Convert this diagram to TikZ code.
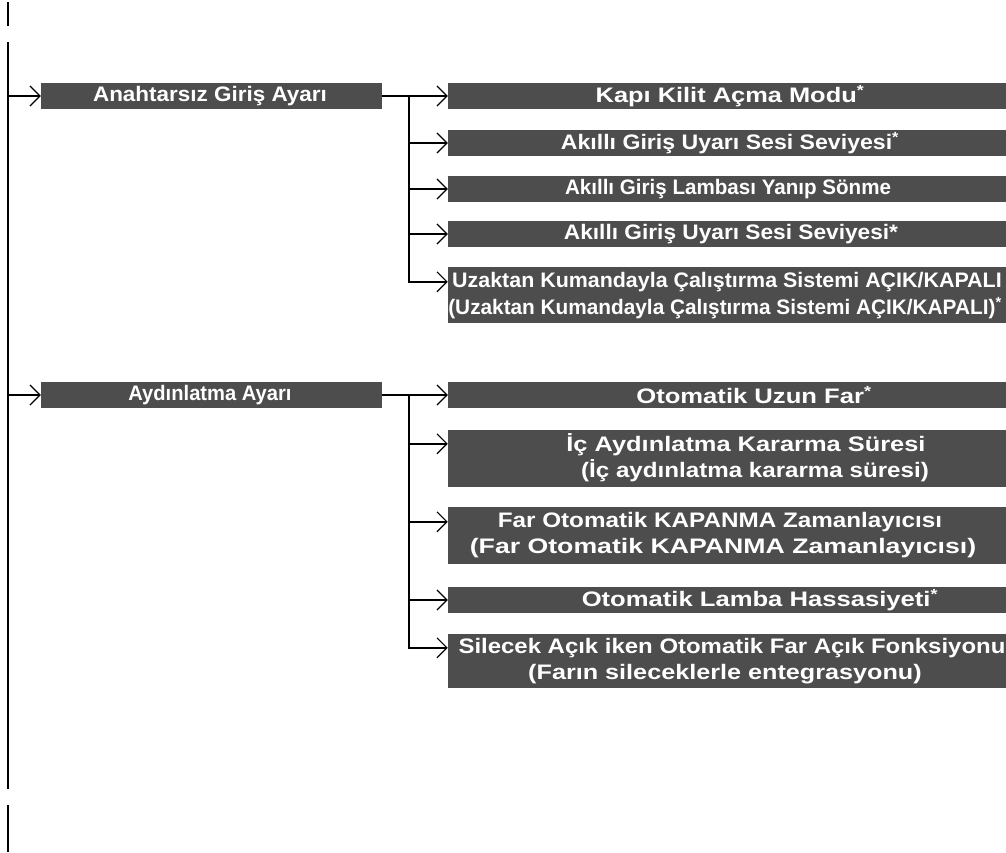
\documentclass[tikz,border=0pt]{standalone}
\usepackage{fontspec}
\setmainfont{Liberation Sans}
\usetikzlibrary{arrows.meta}
\definecolor{boxgray}{HTML}{4D4D4D}
\tikzset{
  line/.style={line width=1.6pt, line cap=butt},
  arr/.style={line width=1.6pt, -{Straight Barb[length=10pt,width=20pt,line width=1.2pt]}},
  pbox/.style={fill=boxgray, draw=none, minimum width=341pt, minimum height=26pt, inner sep=0pt},
  cbox/.style={fill=boxgray, draw=none, minimum width=558pt, inner sep=0pt},
  lbl/.style={text=white, font=\fontsize{21}{26}\selectfont\bfseries, inner sep=0pt, anchor=center},
}
\newcommand{\supast}{\textsuperscript{*}}
\newcommand{\sx}[2]{\scalebox{#1}[1]{#2}}
\begin{document}
\begin{tikzpicture}[x=1pt,y=-1pt]
\useasboundingbox (0,0) rectangle (1006,852);
% trunk
\coordinate (t0) at (8,2); \coordinate (t1) at (8,26);
\coordinate (m0) at (8,42); \coordinate (m1) at (8,789);
\coordinate (e0) at (8,805); \coordinate (e1) at (8,852);
\draw[line] (t0) -- (t1);
\draw[line] (m0) -- (m1);
\draw[line] (e0) -- (e1);
% parents
\node[pbox] (P1) at (211.5,96) {};
\node[lbl] at (210,96) {\sx{1.07}{Anahtarsız Giriş Ayarı}};
\node[pbox] (P2) at (211.5,395) {};
\node[lbl] at (210,395) {\sx{0.96}{Aydınlatma Ayarı}};
% children group 1
\node[cbox, minimum height=26pt] (C1) at (727,96) {};
\node[lbl] at (730,96) {\sx{1.21}{Kapı Kilit Açma Modu\supast}};
\node[cbox, minimum height=26pt] (C2) at (727,143) {};
\node[lbl] at (730,143) {\sx{1.10}{Akıllı Giriş Uyarı Sesi Seviyesi\supast}};
\node[cbox, minimum height=26pt] (C3) at (727,189) {};
\node[lbl] at (728,189) {\sx{0.98}{Akıllı Giriş Lambası Yanıp Sönme}};
\node[cbox, minimum height=26pt] (C4) at (727,234) {};
\node[lbl] at (731,234) {\sx{1.08}{Akıllı Giriş Uyarı Sesi Seviyesi*}};
\node[cbox, minimum height=56pt] (C5) at (727,295) {};
\node[lbl] at (727,282) {\sx{1.02}{Uzaktan Kumandayla Çalıştırma Sistemi AÇIK/KAPALI}};
\node[lbl] at (725,308) {\sx{0.99}{(Uzaktan Kumandayla Çalıştırma Sistemi AÇIK/KAPALI)\supast}};
% children group 2
\node[cbox, minimum height=26pt] (D1) at (727,395) {};
\node[lbl] at (754,395) {\sx{1.22}{Otomatik Uzun Far\supast}};
\node[cbox, minimum height=57pt] (D2) at (727,458.5) {};
\node[lbl] at (746,445) {\sx{1.21}{İç Aydınlatma Kararma Süresi}};
\node[lbl] at (755,471) {\sx{1.15}{(İç aydınlatma kararma süresi)}};
\node[cbox, minimum height=57pt] (D3) at (727,535.5) {};
\node[lbl] at (720,522) {\sx{1.155}{Far Otomatik KAPANMA Zamanlayıcısı}};
\node[lbl] at (723,548) {\sx{1.27}{(Far Otomatik KAPANMA Zamanlayıcısı)}};
\node[cbox, minimum height=26pt] (D4) at (727,600) {};
\node[lbl] at (760,600) {\sx{1.22}{Otomatik Lamba Hassasiyeti\supast}};
\node[cbox, minimum height=54pt] (D5) at (727,661) {};
\node[lbl] at (732,648) {\sx{1.14}{Silecek Açık iken Otomatik Far Açık Fonksiyonu}};
\node[lbl] at (725,674) {\sx{1.20}{(Farın sileceklerle entegrasyonu)}};
% connectors
\draw[arr] (m0 |- P1.west) -- (P1.west);
\draw[arr] (m0 |- P2.west) -- (P2.west);
\coordinate (b1) at (409,96);
\coordinate (b2) at (409,395);
\coordinate (C5a) at ([yshift=-15pt]C5.north west);
\coordinate (D2a) at ([yshift=-14pt]D2.north west);
\coordinate (D3a) at ([yshift=-15pt]D3.north west);
\coordinate (D5a) at ([yshift=-14pt]D5.north west);
\draw[arr] (P1.east) -- (C1.west);
\draw[arr] (b1 |- C2.west) -- (C2.west);
\draw[arr] (b1 |- C3.west) -- (C3.west);
\draw[arr] (b1 |- C4.west) -- (C4.west);
\draw[arr] (b1) |- (C5a);
\draw[arr] (P2.east) -- (D1.west);
\draw[arr] (b2 |- D2a) -- (D2a);
\draw[arr] (b2 |- D3a) -- (D3a);
\draw[arr] (b2 |- D4.west) -- (D4.west);
\draw[arr] (b2) |- (D5a);
\end{tikzpicture}
\end{document}
